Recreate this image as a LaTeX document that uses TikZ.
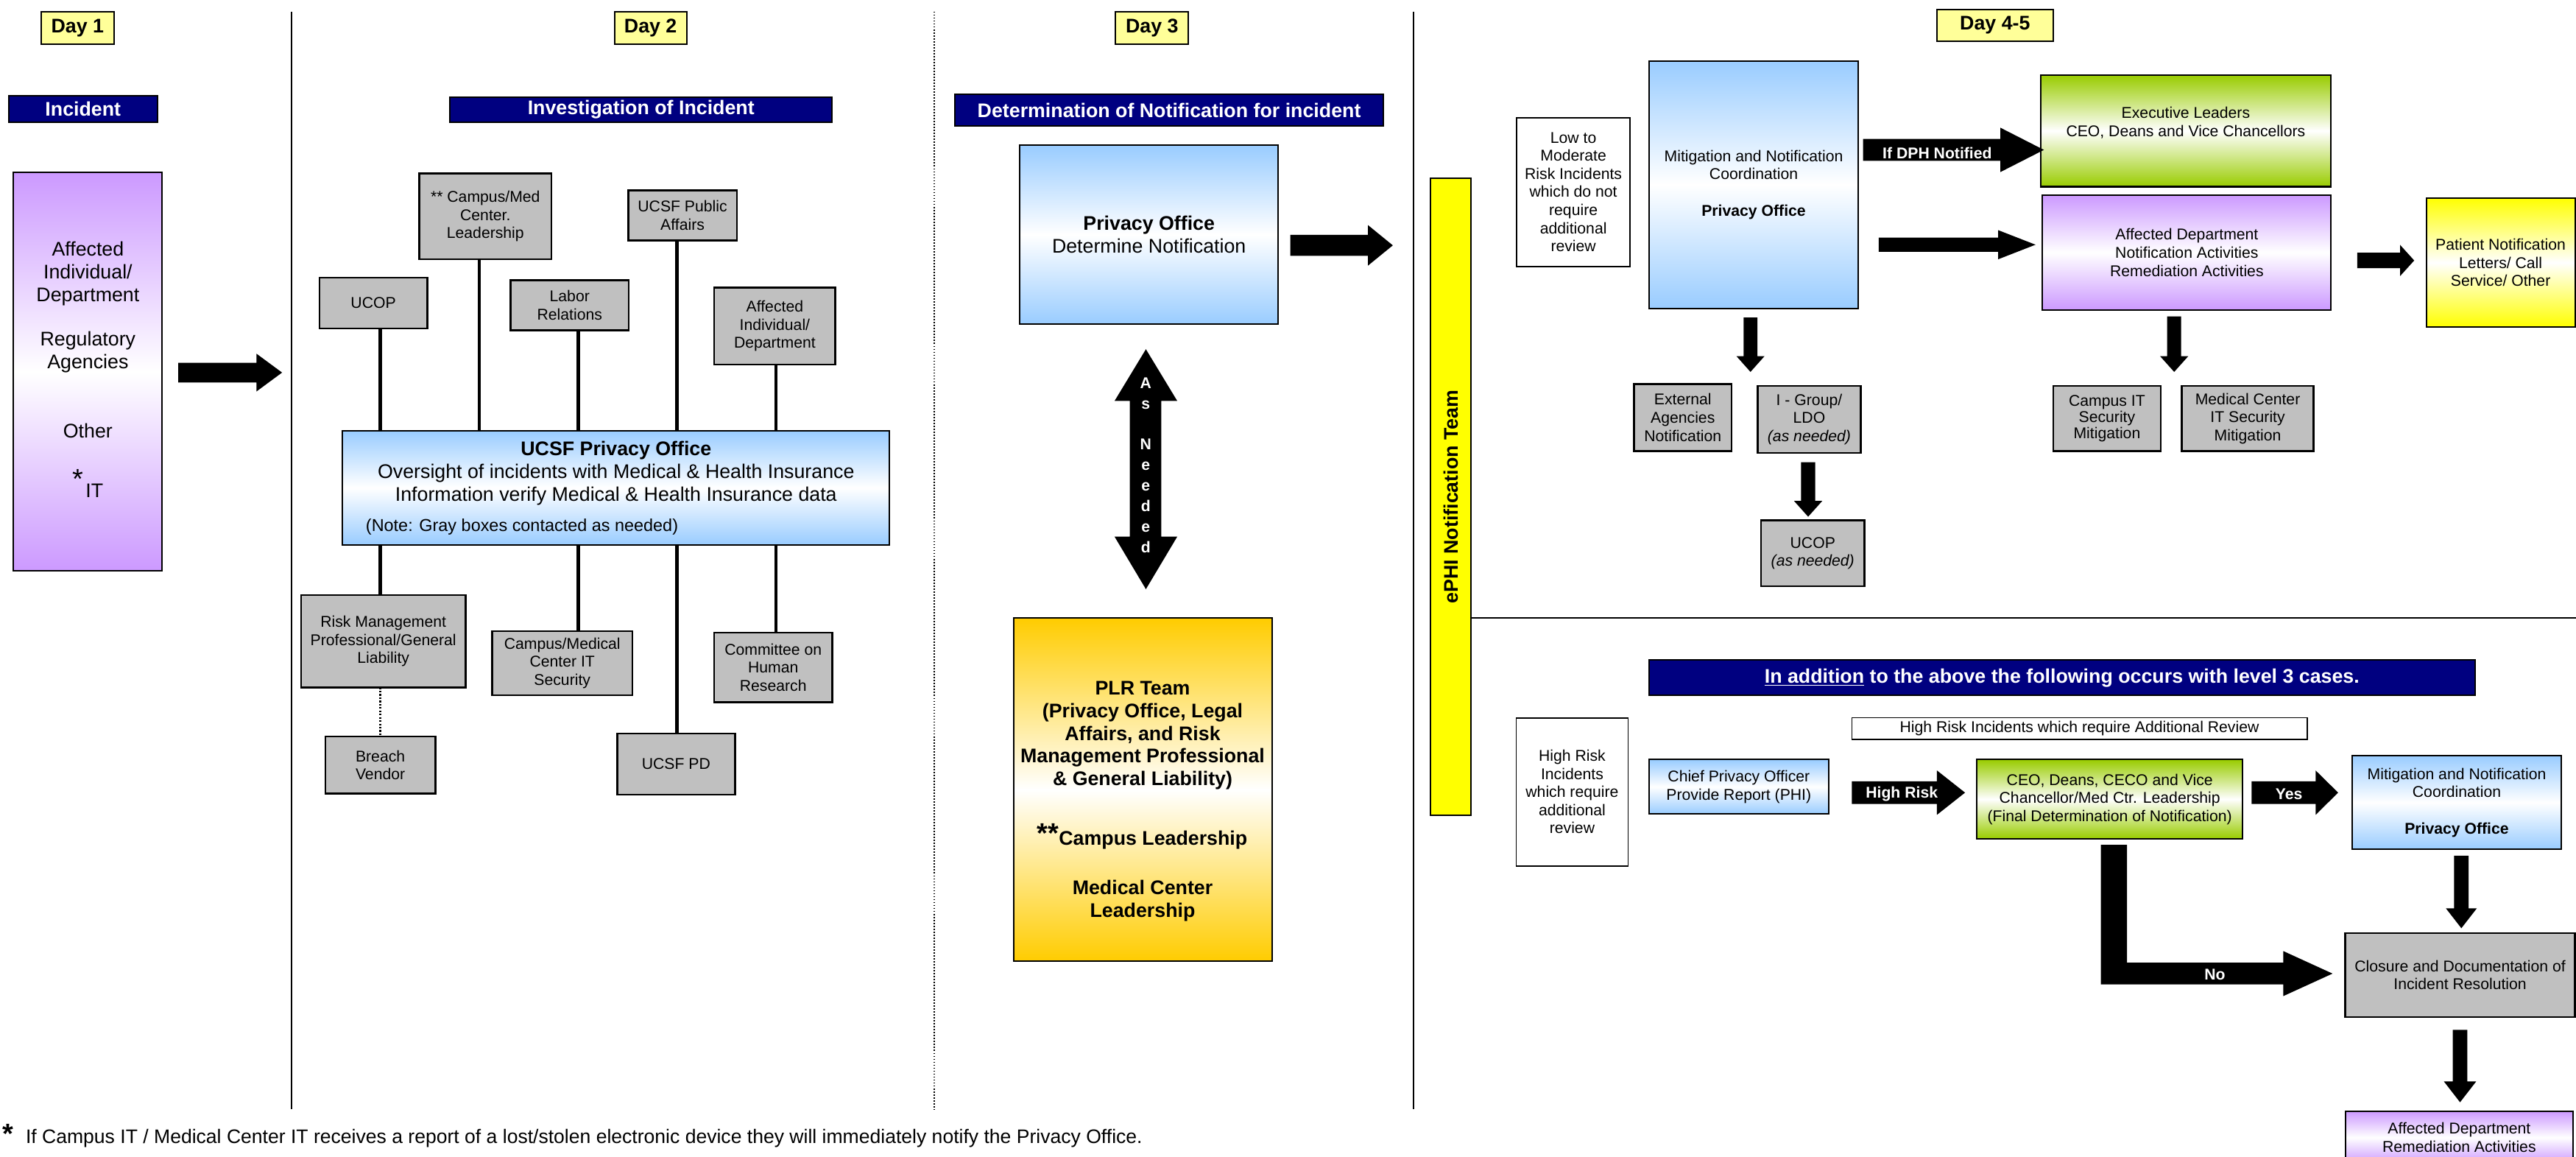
\documentclass[tikz,border=0pt]{standalone}
\usepackage{fontspec}
\setmainfont{Liberation Sans}
\usetikzlibrary{calc}
\definecolor{dayyel}{HTML}{FFFF99}
\definecolor{navy}{HTML}{000080}
\definecolor{purp}{HTML}{CC99FF}
\definecolor{blu}{HTML}{99CCFF}
\definecolor{gry}{HTML}{C0C0C0}
\definecolor{orng}{HTML}{FFCC00}
\definecolor{grn}{HTML}{99CC00}
\definecolor{yel}{HTML}{FFFF00}
\newcommand\fsm{\fontsize{9.5}{11}\selectfont}
\newcommand\fbig{\fontsize{12}{13.8}\selectfont}
% right block arrow: x1, xhead, xtip, ycenter, shaft half, head half
\newcommand\BArR[6]{\fill[black] ({#1},{#4-#5}) -- ({#2},{#4-#5}) -- ({#2},{#4-#6}) -- ({#3},{#4}) -- ({#2},{#4+#6}) -- ({#2},{#4+#5}) -- ({#1},{#4+#5}) -- cycle;}
% down block arrow: y1, yhead, ytip, xcenter, shaft half, head half
\newcommand\BArD[6]{\fill[black] ({#4-#5},{#1}) -- ({#4-#5},{#2}) -- ({#4-#6},{#2}) -- ({#4},{#3}) -- ({#4+#6},{#2}) -- ({#4+#5},{#2}) -- ({#4+#5},{#1}) -- cycle;}
\begin{document}
\begin{tikzpicture}[x=1pt,y=-1pt,
  bx/.style={draw=black, line width=0.9pt, inner sep=1pt, outer sep=0pt, align=center, font=\fsm},
  gbox/.style={bx, fill=gry, line width=1.1pt},
  wbox/.style={bx, fill=white, line width=0.7pt},
  daybox/.style={bx, fill=dayyel, font=\bfseries\fontsize{12}{14}\selectfont},
  hdr/.style={draw=black, line width=0.9pt, fill=navy, text=white, inner sep=0pt, font=\bfseries\fontsize{12}{14}\selectfont},
  shv/.style={top color=#1, bottom color=#1, middle color=white},
  txt/.style={inner sep=0pt, align=center},
  conn/.style={line width=2pt, black},
  dotconn/.style={line width=1pt, black, densely dotted},
  divider/.style={line width=0.8pt, black},
  albl/.style={inner sep=0pt, text=white, font=\bfseries\fontsize{9.5}{11}\selectfont}]
\useasboundingbox (0,0) rectangle (1568,704);
\clip (0,0) rectangle (1568,704);
\fill[white] (0,0) rectangle (1568,704);

% ---------- dividers ----------
\draw[divider] (177.3,7) -- (177.3,675);
\draw[divider, densely dotted] (568.5,7) -- (568.5,675);
\draw[divider] (860.4,7) -- (860.4,675);

% ---------- day labels ----------
\node[daybox, minimum width=44.6, minimum height=20.1] (day1) at (47.2,17) {Day 1};
\node[daybox, minimum width=44, minimum height=20] (day2) at (396,17) {Day 2};
\node[daybox, minimum width=44.3, minimum height=19.6] (day3) at (701.25,17) {Day 3};
\node[daybox, minimum width=70.7, minimum height=19.4] (day45) at (1214.35,15.4) {Day 4-5};

% ---------- headers ----------
\node[hdr, minimum width=90.7, minimum height=16] (hinc) at (50.55,66.3) {Incident};
\node[hdr, minimum width=232.6, minimum height=15.3] (hinv) at (390.2,66.65) {Investigation of Incident};
\node[hdr, minimum width=260.9, minimum height=19.6] (hdet) at (711.65,67) {Determination of Notification for incident};
\node[hdr, minimum width=502.6, minimum height=21.7] (hadd) at (1255.1,412.35) {\underline{In addition} to the above the following occurs with level 3 cases.};

% ---------- Day 1 ----------
\node[bx, shv=purp, minimum width=90.6, minimum height=242.5] (p1) at (53.5,226.25) {};
\node[txt, font=\fbig] (p1a) at (53.5,166.4) {Affected\\Individual/\\Department};
\node[txt, font=\fbig] (p1b) at (53.5,214.3) {Regulatory\\Agencies};
\node[txt, font=\fbig] (p1c) at (53.5,262) {Other};
\node[txt, font=\fontsize{17}{17}\selectfont] (p1star) at (47.6,291.5) {*};
\node[txt, font=\fbig] (p1d) at (57.5,298.4) {IT};
\BArR{108.5}{156.1}{171.7}{226.7}{6}{11.5}

% ---------- Day 2 ----------
\node[gbox, minimum width=80.3, minimum height=52.1] (campmed) at (295.45,131.65) {** Campus/Med\\Center.\\Leadership};
\node[gbox, minimum width=66.1, minimum height=30.4] (pubaff) at (415.45,131.1) {UCSF Public\\Affairs};
\node[gbox, minimum width=65.7, minimum height=30.8] (ucop) at (227.25,184.4) {UCOP};
\node[gbox, minimum width=72.1, minimum height=30.4] (labor) at (346.75,185.8) {Labor\\Relations};
\node[gbox, minimum width=73.6, minimum height=46.9] (affind) at (471.6,198.35) {Affected\\Individual/\\Department};
\node[bx, shv=blu, minimum width=332.9, minimum height=69.5] (priv2) at (374.95,296.75) {};
\node[txt, font=\fbig] (priv2t) at (375,288) {\textbf{UCSF Privacy Office}\\Oversight of incidents with Medical \& Health Insurance\\Information verify Medical \& Health Insurance data};
\node[txt, anchor=west, font=\fontsize{10.5}{12}\selectfont] (priv2n) at (222.5,320.5) {(Note: Gray boxes contacted as needed)};
\node[gbox, minimum width=100.3, minimum height=56.1] (risk) at (233.35,390.25) {Risk Management\\Professional/General\\Liability};
\node[gbox, minimum width=85.5, minimum height=39] (campit) at (342.25,403.5) {Campus/Medical\\Center IT\\Security};
\node[gbox, minimum width=71.7, minimum height=42.3] (chr) at (470.65,406.05) {Committee on\\Human\\Research};
\node[gbox, minimum width=67, minimum height=34.8] (breach) at (231.5,465.5) {Breach\\Vendor};
\node[gbox, minimum width=71.7, minimum height=37.3] (ucsfpd) at (411.55,464.95) {UCSF PD};

\coordinate (c1) at (231.5,0);
\coordinate (c2) at (291.7,0);
\coordinate (c3) at (351.9,0);
\coordinate (c4) at (412.1,0);
\coordinate (c5) at (472.3,0);
\draw[conn] (c1 |- ucop.south) -- (c1 |- priv2.north);
\draw[conn] (c1 |- priv2.south) -- (c1 |- risk.north);
\draw[dotconn] (c1 |- risk.south) -- (c1 |- breach.north);
\draw[conn] (c2 |- campmed.south) -- (c2 |- priv2.north);
\draw[conn] (c3 |- labor.south) -- (c3 |- priv2.north);
\draw[conn] (c3 |- priv2.south) -- (c3 |- campit.north);
\draw[conn] (c4 |- pubaff.south) -- (c4 |- priv2.north);
\draw[conn] (c4 |- priv2.south) -- (c4 |- ucsfpd.north);
\draw[conn] (c5 |- affind.south) -- (c5 |- priv2.north);
\draw[conn] (c5 |- priv2.south) -- (c5 |- chr.north);

% ---------- Day 3 ----------
\node[bx, shv=blu, font=\fontsize{12}{14}\selectfont, minimum width=157.4, minimum height=108.9] (priv3) at (699.4,142.85) {\textbf{Privacy Office}\\Determine Notification};
\BArR{785.4}{832.7}{847.8}{149.3}{6.4}{12.3}
\fill[black] (697.5,212.5) -- (716.6,244) -- (706.9,244) -- (706.9,326.5) -- (716.6,326.5) -- (697.5,358.5) -- (678.4,326.5) -- (687.7,326.5) -- (687.7,244) -- (678.4,244) -- cycle;
\node[txt, text=white, font=\bfseries\fontsize{9.5}{12.5}\selectfont] (asn) at (697.4,283) {A\\s\\[12.5pt]N\\e\\e\\d\\e\\d};
\node[bx, shv=orng, minimum width=157.3, minimum height=208.9] (plr) at (695.55,480.55) {};
\node[txt, font=\bfseries\fontsize{12}{13.75}\selectfont] (plra) at (695.5,447.5) {PLR Team\\(Privacy Office, Legal\\Affairs, and Risk\\Management Professional\\\& General Liability)};
\node[txt, font=\bfseries\fontsize{12}{13.75}\selectfont] (plrb) at (695.3,509) {\raisebox{1.5pt}{\fontsize{17}{17}\selectfont **}Campus Leadership};
\node[txt, font=\bfseries\fontsize{12}{13.75}\selectfont] (plrc) at (695.5,548) {Medical Center\\Leadership};

% ---------- ePHI ----------
\node[draw=black, line width=0.9pt, fill=yel, minimum width=24.7, minimum height=387.7, inner sep=0pt] (ephi) at (883.05,302.25) {};
\node[txt, rotate=90, font=\bfseries\fontsize{12}{14}\selectfont] (ephit) at (ephi.center) {ePHI Notification Team};
\coordinate (hl) at (1568,376.1);
\draw[divider] (ephi.east |- hl) -- (hl);

% ---------- Day 4-5 upper ----------
\node[wbox, minimum width=69, minimum height=90.5] (lowmod) at (957.7,116.85) {Low to\\Moderate\\Risk Incidents\\which do not\\require\\additional\\review};
\node[bx, shv=blu, minimum width=127.3, minimum height=150.7] (mitig) at (1067.45,112.35) {Mitigation and Notification\\Coordination\\[11pt]\textbf{Privacy Office}};
\node[bx, shv=grn, minimum width=176.9, minimum height=67.9] (exec) at (1330.45,79.65) {};
\node[txt, font=\fsm] (exect) at (1330.45,74.8) {Executive Leaders\\CEO, Deans and Vice Chancellors};
\node[bx, shv=purp, minimum width=175.6, minimum height=69.9] (affdep) at (1331.1,153.65) {Affected Department\\Notification Activities\\Remediation Activities};
\node[bx, shv=yel, minimum width=90.6, minimum height=78.5] (patient) at (1522.1,159.75) {Patient Notification\\Letters/ Call\\Service/ Other};
\node[gbox, minimum width=59.2, minimum height=40.7] (extag) at (1024.3,254.05) {External\\Agencies\\Notification};
\node[gbox, minimum width=62.9, minimum height=40.7] (igroup) at (1101.25,255.15) {I - Group/\\LDO\\\textit{(as needed)}};
\node[gbox, minimum width=63, minimum height=40.1] (ucop2) at (1103.4,336.65) {UCOP\\\textit{(as needed)}};
\node[gbox, font=\fontsize{9.5}{8.6}\selectfont, minimum width=65.6, minimum height=39.6] (campit2) at (1282.5,254.6) {Campus IT\\Security\\Mitigation};
\node[gbox, minimum width=80.1, minimum height=39.6] (medit) at (1368.15,254.6) {Medical Center\\IT Security\\Mitigation};

\BArR{1134}{1217.6}{1244.1}{91.2}{6.65}{13.5}
\node[albl] (dphl) at (1179.2,93) {If DPH Notified};
\BArR{1143.5}{1216.3}{1239}{148.9}{4.35}{8.85}
\BArR{1434.8}{1460.9}{1469.5}{158.5}{4.7}{9.5}
\BArD{193.2}{216.7}{226.3}{1065.5}{4.2}{8.55}
\BArD{281.2}{304.8}{314.4}{1100.6}{4.3}{8.6}
\BArD{192.5}{216.7}{226.3}{1323.4}{4.25}{8.6}

% ---------- Day 4-5 lower ----------
\node[wbox, minimum width=68.1, minimum height=90.1] (hrbox) at (956.95,481.85) {High Risk\\Incidents\\which require\\additional\\review};
\node[wbox, minimum width=277.1, minimum height=13.4, inner sep=0pt] (hrirev) at (1265.75,443.3) {High Risk Incidents which require Additional Review};
\node[bx, shv=blu, minimum width=109.2, minimum height=33.1] (chief) at (1058.4,478.75) {Chief Privacy Officer\\Provide Report (PHI)};
\node[bx, shv=grn, minimum width=161.6, minimum height=48.1] (ceo) at (1284.2,486.25) {CEO, Deans, CECO and Vice\\Chancellor/Med Ctr. Leadership\\(Final Determination of Notification)};
\node[bx, shv=blu, minimum width=127.2, minimum height=57.1] (mitig2) at (1495.4,488.35) {Mitigation and Notification\\Coordination\\[11pt]\textbf{Privacy Office}};
\node[gbox, minimum width=139.9, minimum height=51.2] (closure) at (1497.45,593.3) {Closure and Documentation of\\Incident Resolution};
\node[bx, shv=purp, minimum width=138.8, minimum height=31.8] (remed) at (1496.9,692.1) {Affected Department\\Remediation Activities};

\BArR{1127.2}{1179}{1196.1}{482.3}{6.85}{13.5}
\node[albl] (hrl) at (1157.6,483) {High Risk};
\BArR{1370.5}{1409.5}{1423.2}{482.3}{6.85}{13.5}
\node[albl] (yesl) at (1393.3,483) {Yes};
\fill[black] (1278.8,514) -- (1294.7,514) -- (1294.7,585.7) -- (1389.8,585.7) -- (1389.8,578.7) -- (1419.8,592.4) -- (1389.8,606.1) -- (1389.8,599) -- (1278.8,599) -- cycle;
\node[albl] (nol) at (1348.2,593) {No};
\BArD{520.7}{552.7}{564.8}{1498.2}{4.45}{9.4}
\BArD{626.6}{658}{670.7}{1497.4}{4.45}{9.85}

% ---------- footnote ----------
\node[txt, font=\bfseries\fontsize{17}{17}\selectfont] (fstar) at (5,690) {*};
\node[txt, anchor=west, font=\fontsize{11.9}{13}\selectfont] (foot) at (15.5,692.5) {If Campus IT / Medical Center IT receives a report of a lost/stolen electronic device they will immediately notify the Privacy Office.};
\end{tikzpicture}
\end{document}
